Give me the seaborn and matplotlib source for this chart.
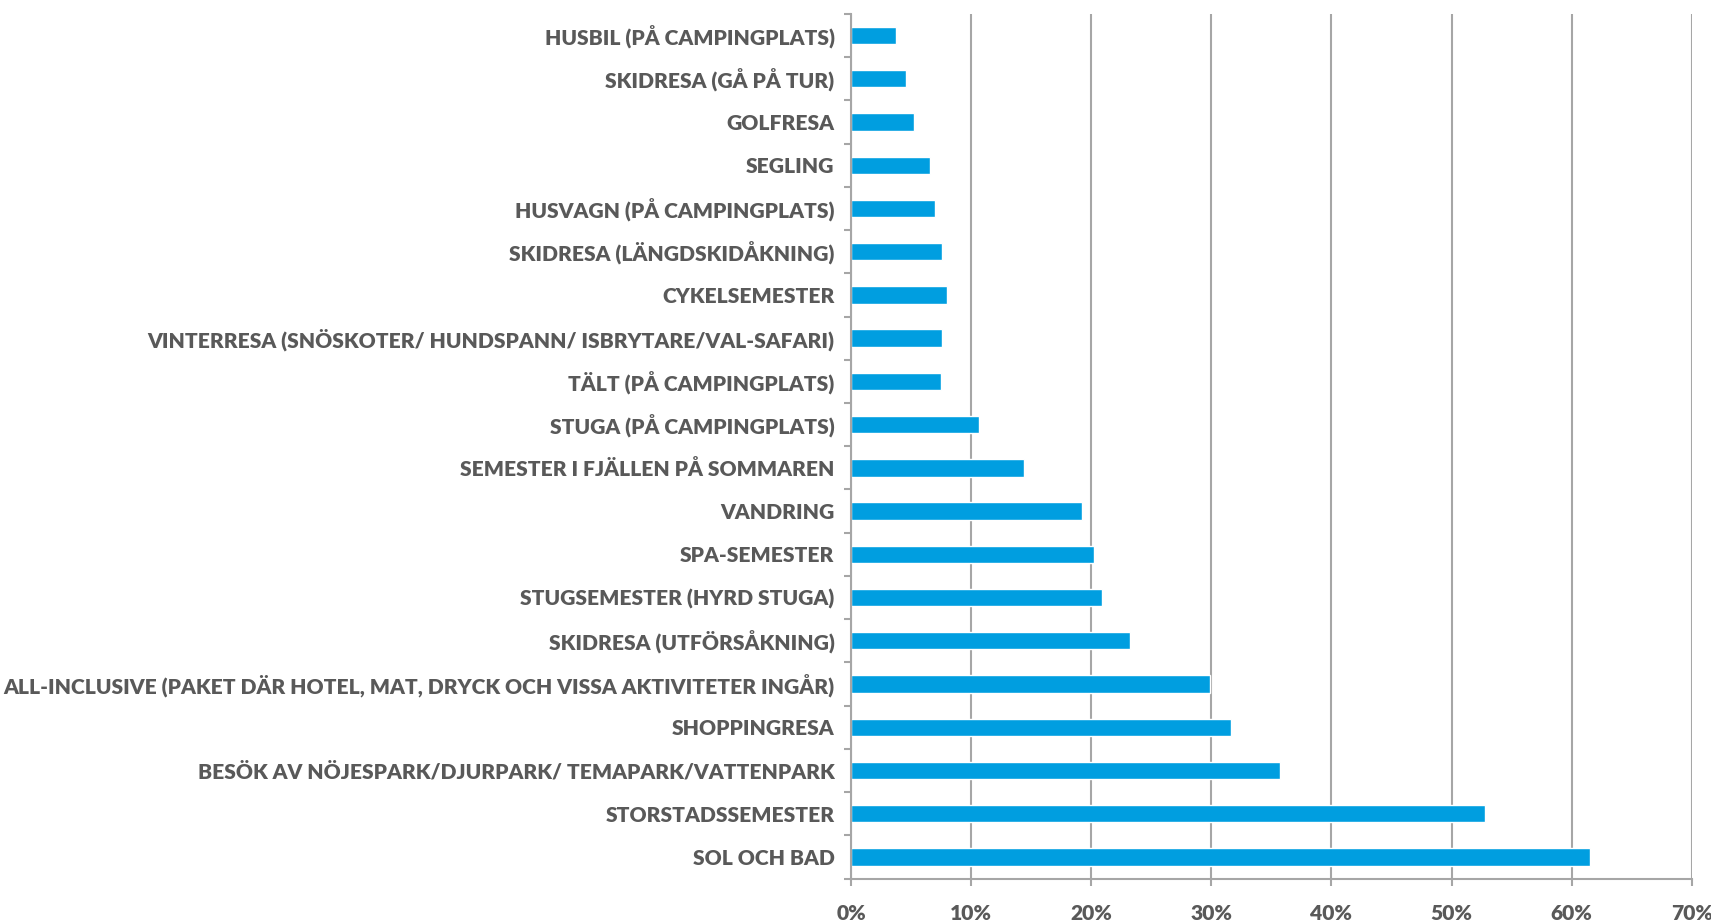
import pandas as pd
import matplotlib.pyplot as plt
import seaborn as sns
from matplotlib.ticker import MultipleLocator, PercentFormatter

# categories top to bottom, share in %
categories = [
    "HUSBIL (PÅ CAMPINGPLATS)",
    "SKIDRESA (GÅ PÅ TUR)",
    "GOLFRESA",
    "SEGLING",
    "HUSVAGN (PÅ CAMPINGPLATS)",
    "SKIDRESA (LÄNGDSKIDÅKNING)",
    "CYKELSEMESTER",
    "VINTERRESA (SNÖSKOTER/ HUNDSPANN/ ISBRYTARE/VAL-SAFARI)",
    "TÄLT (PÅ CAMPINGPLATS)",
    "STUGA (PÅ CAMPINGPLATS)",
    "SEMESTER I FJÄLLEN PÅ SOMMAREN",
    "VANDRING",
    "SPA-SEMESTER",
    "STUGSEMESTER (HYRD STUGA)",
    "SKIDRESA (UTFÖRSÅKNING)",
    "ALL-INCLUSIVE (PAKET DÄR HOTEL, MAT, DRYCK OCH VISSA AKTIVITETER INGÅR)",
    "SHOPPINGRESA",
    "BESÖK AV NÖJESPARK/DJURPARK/ TEMAPARK/VATTENPARK",
    "STORSTADSSEMESTER",
    "SOL OCH BAD",
]
shares = [3.75, 4.6, 5.25, 6.55, 6.95, 7.55, 7.95, 7.55, 7.45, 10.65,
          14.35, 19.2, 20.2, 20.9, 23.2, 29.9, 31.65, 35.7, 52.8, 61.5]

df = pd.DataFrame({"category": categories, "share": shares})

BLUE = "#009ee0"
GRID = "#a6a6a6"
TEXT = "#595959"

sns.set_style("white")
plt.rcParams["font.family"] = ["Lato", "DejaVu Sans"]

fig = plt.figure(figsize=(17.11, 9.22), dpi=100)
ax = fig.add_axes([0.4975, 0.047, 0.4912, 0.938])

sns.barplot(data=df, x="share", y="category", order=categories, orient="h",
            color=BLUE, width=0.4, saturation=1, ax=ax)

ax.set_xlim(0, 70)
ax.set_ylim(len(categories) - 0.5, -0.5)
ax.xaxis.set_major_locator(MultipleLocator(10))
ax.xaxis.set_major_formatter(PercentFormatter(decimals=0))
ax.set_xlabel("")
ax.set_ylabel("")

ax.grid(axis="x", color=GRID, linewidth=1.5)
ax.set_axisbelow(True)
for side in ["top", "right"]:
    ax.spines[side].set_visible(False)
for side in ["left", "bottom"]:
    ax.spines[side].set_color(GRID)
    ax.spines[side].set_linewidth(1.5)

# y ticks sit between categories, labels at the category centres
ax.set_yticks(range(len(categories)))
ax.set_yticklabels(categories)
ax.set_yticks([i - 0.5 for i in range(len(categories) + 1)], minor=True)
ax.tick_params(axis="y", which="major", length=0, pad=12,
               labelsize=15.1, labelcolor=TEXT)
ax.tick_params(axis="y", which="minor", length=5, width=1.5, color=GRID, left=True)
ax.tick_params(axis="x", length=5, width=1.5, color=GRID, bottom=True, pad=13,
               labelsize=15.1, labelcolor=TEXT)
for lbl in ax.get_yticklabels() + ax.get_xticklabels():
    lbl.set_fontweight("heavy")

fig.savefig("out.png", dpi=100)
